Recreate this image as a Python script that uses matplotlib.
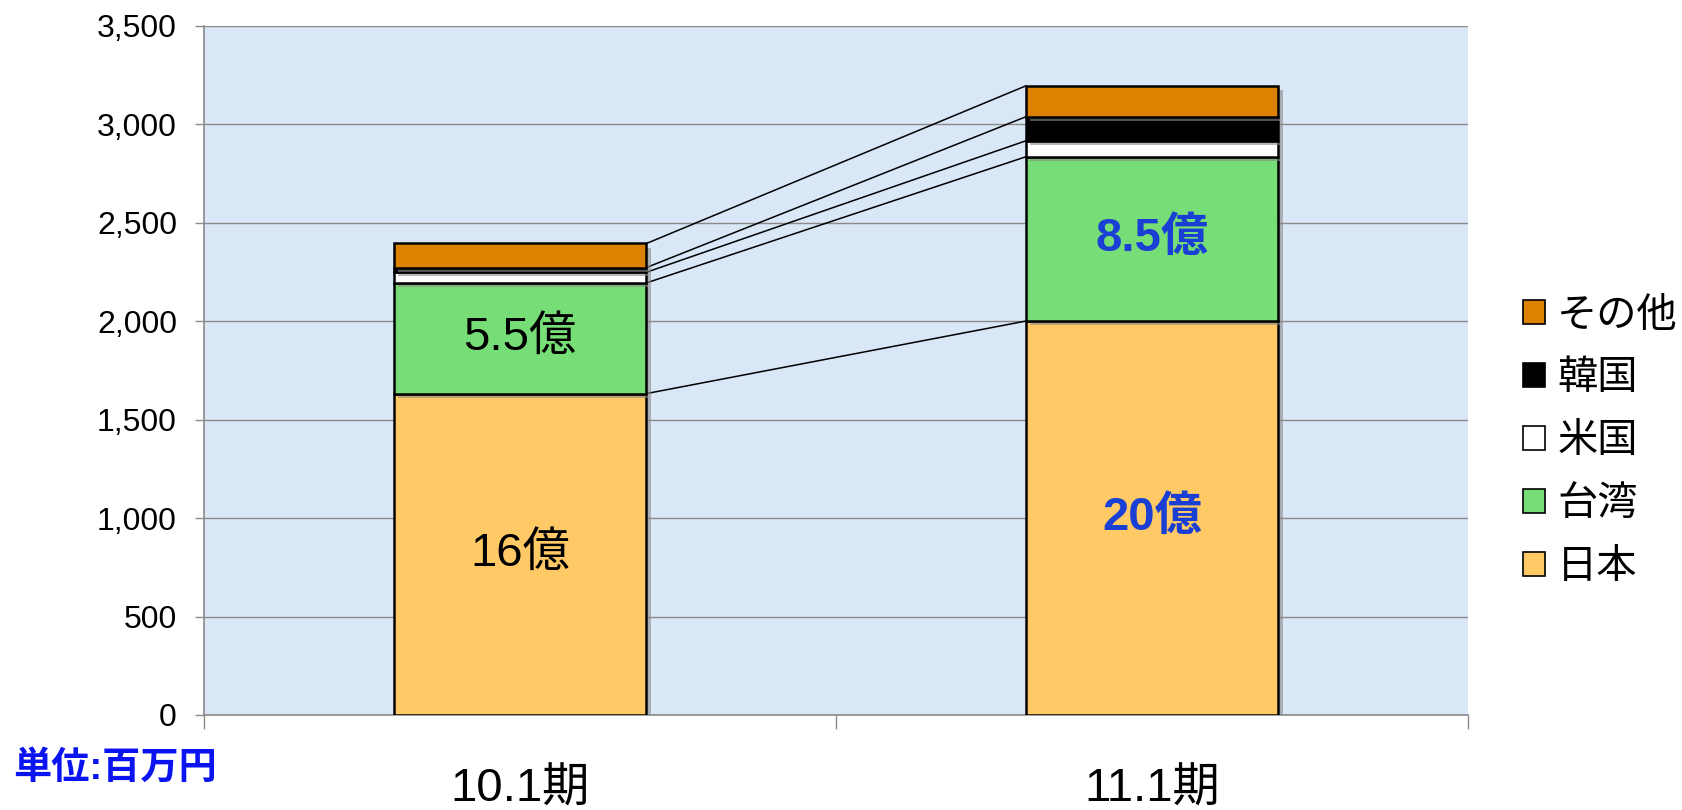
import matplotlib
matplotlib.use("Agg")
import matplotlib.pyplot as plt
import matplotlib.patheffects as pe
import numpy as np

plt.rcParams['font.family'] = ['Liberation Sans', 'Noto Sans CJK JP']

# values in 百万円
periods = ['10.1期', '11.1期']
regions = ['日本', '台湾', '米国', '韓国', 'その他']
japan = [1632, 2000]
taiwan = [562, 834]
usa = [54, 81]
korea = [24, 122]
other = [122, 157]
colors = ['#ffc966', '#77dd77', '#ffffff', '#000000', '#dc8100']
labels = [['16億', '5.5億'], ['20億', '8.5億']]

fig = plt.figure(figsize=(16.83, 8.10), dpi=100)
ax = fig.add_axes([0.1212, 0.1173, 0.7511, 0.851])
ax.set_facecolor('#d9e7f6')

x = np.arange(len(periods))
w = 0.40
series = [japan, taiwan, usa, korea, other]
bottom = np.zeros(len(periods))
tops = []
shadow = [pe.SimplePatchShadow(offset=(3, -3), shadow_rgbFace='#888888', alpha=0.6), pe.Normal()]
for name, vals, c in zip(regions, series, colors):
    vals = np.array(vals, dtype=float)
    ax.bar(x, vals, w, bottom=bottom, color=c, edgecolor='black', linewidth=1.8,
           label=name, zorder=3, path_effects=shadow)
    bottom = bottom + vals
    tops.append(bottom.copy())

# connector lines between the two stacks
for t in tops:
    ax.plot([x[0] + w / 2, x[1] - w / 2], [t[0], t[1]], color='black', lw=1.1, zorder=2)

# labels inside the bars
ax.text(x[0], japan[0] / 2, labels[0][0], ha='center', va='center', fontsize=34, zorder=4)
ax.text(x[0], japan[0] + taiwan[0] / 2, labels[0][1], ha='center', va='center', fontsize=34, zorder=4)
ax.text(x[1], japan[1] / 2, labels[1][0], ha='center', va='center', fontsize=34,
        fontweight='bold', color='#1a3fd4', zorder=4)
ax.text(x[1], japan[1] + taiwan[1] / 2, labels[1][1], ha='center', va='center', fontsize=34,
        fontweight='bold', color='#1a3fd4', zorder=4)

ax.set_xlim(-0.5, 1.5)
ax.set_ylim(0, 3500)
ax.set_yticks(np.arange(0, 3501, 500))
ax.set_yticklabels([f'{v:,}' for v in range(0, 3501, 500)])
ax.yaxis.grid(True, color='#8a8a8a', lw=1.0, zorder=1)
ax.set_axisbelow(True)
ax.set_xticks(x)
ax.set_xticklabels(periods, fontsize=34)
ax.set_xticks([-0.5, 0.5, 1.5], minor=True)
ax.tick_params(axis='x', which='major', length=0, pad=38)
ax.tick_params(axis='x', which='minor', length=10, width=1.0, color='#8a8a8a')
ax.tick_params(axis='y', length=6.5, width=1.0, color='#8a8a8a', labelsize=23, pad=13)
for s in ['top', 'right']:
    ax.spines[s].set_visible(False)
for s in ['left', 'bottom']:
    ax.spines[s].set_color('#8a8a8a')
    ax.spines[s].set_linewidth(1.2)

h, l = ax.get_legend_handles_labels()
leg = fig.legend(h[::-1], l[::-1], loc='center left', bbox_to_anchor=(0.905, 0.455),
                 frameon=False, fontsize=29, handlelength=0.55, handleheight=0.55,
                 handletextpad=0.3, labelspacing=0.62, borderpad=0, borderaxespad=0)
for p in leg.get_patches():
    p.set_path_effects([])
    p.set_linewidth(1.2)

fig.text(0.008, 0.051, '単位:百万円', fontsize=27.5, fontweight='bold', color='#0a14f0',
         ha='left', va='center')

fig.savefig('out.png', dpi=100)
